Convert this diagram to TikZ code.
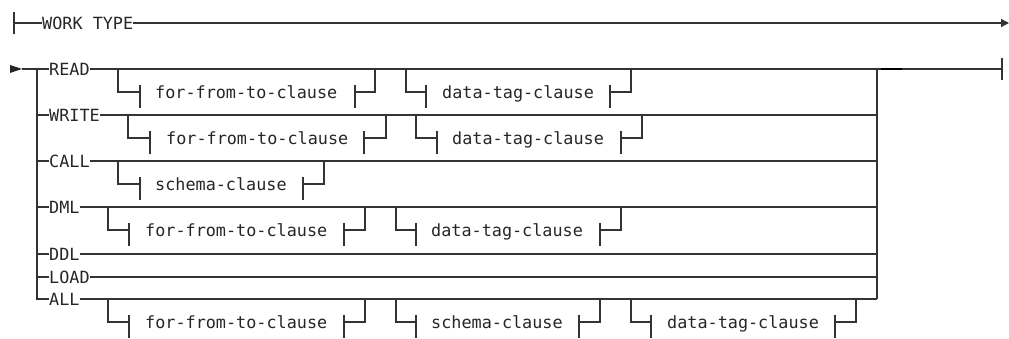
\documentclass[tikz,border=0pt]{standalone}
\usepackage{fontspec}
\setmonofont{DejaVu Sans Mono}
\usetikzlibrary{arrows.meta}
\tikzset{
  rail/.style={draw=black!80, line width=1.2pt},
  lbl/.style={font=\ttfamily\fontsize{16.8}{20}\selectfont, text=black!85, inner sep=0pt, text height=12.2pt, text depth=0pt, anchor=west},
}
% #1 name, #2 row y, #3 sub y, #4 xL, #5 xtick, #6 xtext, #7 xrtick, #8 xR, #9 text
\newcommand\clausebranch[9]{%
  \coordinate (#1-a) at (#4,#2);
  \coordinate (#1-b) at (#4,#3);
  \coordinate (#1-c) at (#5,#3);
  \coordinate (#1-ct) at ({#5},{#3-7});
  \coordinate (#1-cb) at ({#5},{#3+16});
  \node[lbl] (#1) at (#6,#3) {#9};
  \coordinate (#1-d) at (#7,#3);
  \coordinate (#1-dt) at ({#7},{#3-7});
  \coordinate (#1-db) at ({#7},{#3+16});
  \coordinate (#1-e) at (#8,#3);
  \coordinate (#1-f) at (#8,#2);
  \draw[rail] (#1-a) -- (#1-b) -- (#1-c);
  \draw[rail] (#1-ct) -- (#1-cb);
  \draw[rail] (#1-dt) -- (#1-db);
  \draw[rail] (#1-d) -- (#1-e) -- (#1-f);
}
\begin{document}
\begin{tikzpicture}[x=1pt,y=-1pt]
\useasboundingbox (0,0) rectangle (1009,339);
% top line
\coordinate (t0) at (14,23);
\coordinate (t0a) at (14,12);
\coordinate (t0b) at (14,34);
\node[lbl] (wt) at (42,23) {WORK TYPE};
\coordinate (tend) at (1009,23);
\draw[rail] (t0a) -- (t0b);
\draw[rail] (t0) -- (wt.west);
\draw[rail, -{Triangle[length=8pt,width=8pt]}] (wt.east) -- (tend);
% start arrow
\coordinate (s0) at (10,65);
\coordinate (s1) at (22,69);
\coordinate (s2) at (10,73);
\fill[black!85] (s0) -- (s1) -- (s2) -- cycle;
% labels
\node[lbl] (read)  at (49,69)  {READ};
\node[lbl] (write) at (49,115) {WRITE};
\node[lbl] (call)  at (49,161) {CALL};
\node[lbl] (dml)   at (49,207) {DML};
\node[lbl] (ddl)   at (49,254) {DDL};
\node[lbl] (load)  at (49,277) {LOAD};
\node[lbl] (all)   at (49,299) {ALL};
% left rail
\coordinate (Lr) at (37,69);
\coordinate (Lw) at (37,115);
\coordinate (Lc) at (37,161);
\coordinate (Ldm) at (37,207);
\coordinate (Ldd) at (37,254);
\coordinate (Ll) at (37,277);
\coordinate (La) at (37,299);
\draw[rail] (s1) -- (read.west);
\draw[rail] (Lr) -- (La) -- (all.west);
\draw[rail] (Lw) -- (write.west);
\draw[rail] (Lc) -- (call.west);
\draw[rail] (Ldm) -- (dml.west);
\draw[rail] (Ldd) -- (ddl.west);
\draw[rail] (Ll) -- (load.west);
% right rail
\coordinate (Rr) at (877,69);
\coordinate (Rw) at (877,115);
\coordinate (Rc) at (877,161);
\coordinate (Rdm) at (877,207);
\coordinate (Rdd) at (877,254);
\coordinate (Rl) at (877,277);
\coordinate (Ra) at (877,299);
\draw[rail] (read.east) -- (Rr);
\draw[rail] (write.east) -- (Rw);
\draw[rail] (call.east) -- (Rc);
\draw[rail] (dml.east) -- (Rdm);
\draw[rail] (ddl.east) -- (Rdd);
\draw[rail] (load.east) -- (Rl);
\draw[rail] (all.east) -- (Ra);
\draw[rail] (Rr) -- (Ra);
% end
\coordinate (e0) at (1002,69);
\coordinate (e0a) at (1002,58);
\coordinate (e0b) at (1002,80);
\coordinate (k0) at (881,69);
\coordinate (k1) at (902,69);
\draw[rail] (Rr) -- (e0);
\draw[rail] (e0a) -- (e0b);
\draw[draw=black, line width=2pt] (k0) -- (k1);
% branches
\clausebranch{r1}{69}{92}{118}{140}{155}{355}{375}{for-from-to-clause}
\clausebranch{r2}{69}{92}{406}{426}{442}{610}{631}{data-tag-clause}
\clausebranch{w1}{115}{138}{128}{150}{166}{364}{386}{for-from-to-clause}
\clausebranch{w2}{115}{138}{416}{437}{452}{621}{642}{data-tag-clause}
\clausebranch{c1}{161}{184}{118}{140}{155}{303}{324}{schema-clause}
\clausebranch{d1}{207}{230}{108}{129}{145}{344}{365}{for-from-to-clause}
\clausebranch{d2}{207}{230}{396}{416}{431}{600}{621}{data-tag-clause}
\clausebranch{a1}{299}{322}{108}{129}{145}{344}{365}{for-from-to-clause}
\clausebranch{a2}{299}{322}{396}{416}{431}{579}{600}{schema-clause}
\clausebranch{a3}{299}{322}{631}{651}{667}{835}{856}{data-tag-clause}
\end{tikzpicture}
\end{document}
